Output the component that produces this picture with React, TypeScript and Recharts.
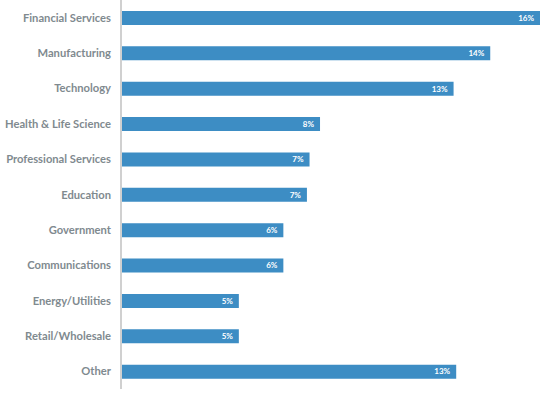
import React from 'react';
import { BarChart, Bar, XAxis, YAxis, LabelList } from 'recharts';

const categories = [
  'Financial Services',
  'Manufacturing',
  'Technology',
  'Health & Life Science',
  'Professional Services',
  'Education',
  'Government',
  'Communications',
  'Energy/Utilities',
  'Retail/Wholesale',
  'Other',
];
const shares = [16, 14.1, 12.7, 7.6, 7.2, 7.1, 6.2, 6.2, 4.5, 4.5, 12.8];
const shareLabels = ['16%', '14%', '13%', '8%', '7%', '7%', '6%', '6%', '5%', '5%', '13%'];

const data = categories.map((name, i) => ({ name, share: shares[i], label: shareLabels[i] }));

// single-line category label, right aligned ~10px left of the axis
function CategoryTick({ x, y, payload }: any) {
  return (
    <text
      x={x - 2}
      y={y}
      dy={4}
      textAnchor="end"
      fontSize={11.2}
      fontWeight={700}
      fill="#7f8a8f"
      fontFamily="Lato"
    >
      {payload.value}
    </text>
  );
}

export default function App() {
  return (
    <div style={{ position: 'absolute', left: 0, top: 0, background: '#fff' }}>
      <BarChart
        width={549}
        height={393}
        data={data}
        layout="vertical"
        margin={{ top: 0, right: 9, bottom: 4, left: 0 }}
        barCategoryGap={0}
      >
        <XAxis type="number" domain={[0, 16]} hide />
        <YAxis
          type="category"
          dataKey="name"
          width={121}
          tickLine={false}
          axisLine={{ stroke: '#d0d0d0', strokeWidth: 2 }}
          tick={<CategoryTick />}
          interval={0}
        />
        <Bar dataKey="share" fill="#3d8dc4" barSize={14} isAnimationActive={false}>
          <LabelList
            dataKey="label"
            position="insideRight"
            offset={6}
            style={{ fontSize: 8, fontWeight: 700, fill: '#ffffff', fontFamily: 'Lato' }}
          />
        </Bar>
      </BarChart>
    </div>
  );
}
